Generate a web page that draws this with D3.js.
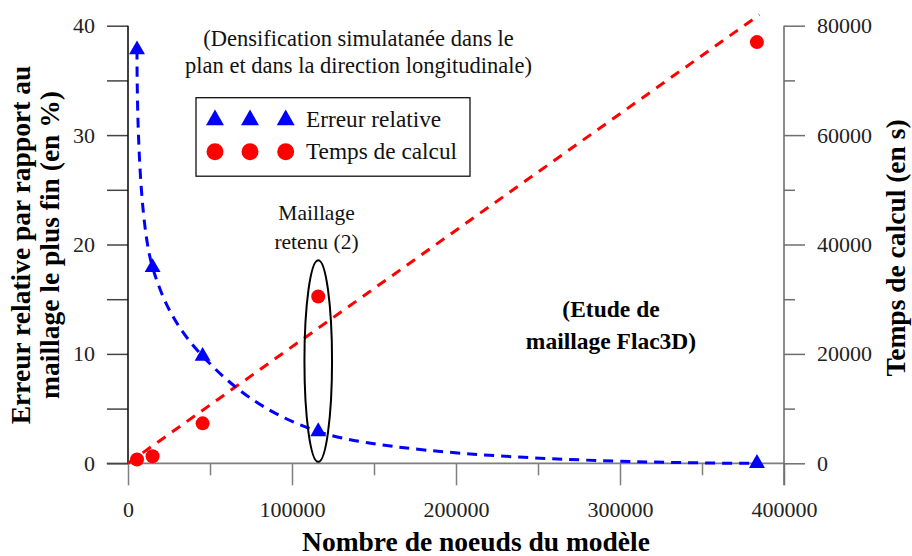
<!DOCTYPE html>
<html><head><meta charset="utf-8">
<script src="https://cdn.jsdelivr.net/npm/d3@7"></script>
</head>
<body style="margin:0;background:#fff"><svg id="chart" width="912" height="556"></svg>
<script>
// ---- data ----
const nodes = [5500, 15000, 45500, 116000, 383500];
const errorPct = [37.8, 17.9, 9.8, 2.9, 0];
const calcTime = [700, 1300, 7300, 30500, 77000];
const trendNodes = [0, 385000];
const trendTime = [0, 82000];
const xTicks = [0, 100000, 200000, 300000, 400000];
const yLeftTicks = [0, 10, 20, 30, 40];
const yRightTicks = [0, 20000, 40000, 60000, 80000];
const legendLabels = ["Erreur relative", "Temps de calcul"];

const FONT = '"Liberation Serif", "Times New Roman", serif';
const svg = d3.select("#chart").style("font-family", FONT);
const x = d3.scaleLinear().domain([0, 400000]).range([128, 784]);
const yL = d3.scaleLinear().domain([0, 40]).range([463.3, 25.7]);
const yR = d3.scaleLinear().domain([0, 80000]).range([463.3, 25.7]);

// ---- axes ----
const xAxis = d3.axisBottom(x).tickValues(d3.range(0, 400001, 50000))
  .tickSize(22).tickPadding(8).tickFormat(d => xTicks.includes(d) ? d : "");
const gx = svg.append("g").attr("transform", `translate(0,${yL(0)})`).call(xAxis);
gx.select(".domain").remove();
gx.selectAll(".tick line").attr("stroke", "#7f7f7f").attr("stroke-width", 1.5)
  .attr("y2", d => xTicks.includes(d) ? 22 : 12);
gx.selectAll(".tick text").style("font-family", FONT).style("font-size", "22px").attr("fill", "#222").attr("dy", "24px");
svg.append("line").attr("x1", 106.7).attr("x2", x(400000))
  .attr("y1", yL(0)).attr("y2", yL(0)).attr("stroke", "#7f7f7f").attr("stroke-width", 1.8);

const yAxisL = d3.axisLeft(yL).tickValues(d3.range(0, 41, 5)).tickSize(21).tickPadding(12)
  .tickFormat(d => yLeftTicks.includes(d) ? d : "");
const gl = svg.append("g").attr("transform", `translate(${x(0)},0)`).call(yAxisL);
gl.select(".domain").remove();
gl.selectAll(".tick line").attr("stroke", "#444").attr("stroke-width", 1.5);
gl.selectAll(".tick text").style("font-family", FONT).style("font-size", "22px").attr("fill", "#222");
svg.append("line").attr("x1", x(0)).attr("x2", x(0)).attr("y1", yL(40)).attr("y2", yL(0))
  .attr("stroke", "#111").attr("stroke-width", 1.6);

const yAxisR = d3.axisRight(yR).tickValues(d3.range(0, 80001, 10000)).tickSize(21).tickPadding(12)
  .tickFormat(d => yRightTicks.includes(d) ? d : "");
const gr = svg.append("g").attr("transform", `translate(${x(400000)},0)`).call(yAxisR);
gr.select(".domain").remove();
gr.selectAll(".tick line").attr("stroke", "#6e6e6e").attr("stroke-width", 1.5)
  .attr("x2", d => yRightTicks.includes(d) ? 21 : 11);
gr.selectAll(".tick text").style("font-family", FONT).style("font-size", "22px").attr("fill", "#222");
svg.append("line").attr("x1", x(400000)).attr("x2", x(400000)).attr("y1", yR(80000)).attr("y2", yR(0) + 22)
  .attr("stroke", "#6e6e6e").attr("stroke-width", 1.6);

// ---- series ----
const trendData = trendNodes.map((n, i) => [n, trendTime[i]]);
svg.append("path").datum(trendData)
  .attr("d", d3.line().x(d => x(d[0])).y(d => yR(d[1])))
  .attr("fill", "none").attr("stroke", "#ff0000").attr("stroke-width", 3).attr("stroke-dasharray", "10,8");

const errData = nodes.map((n, i) => [n, errorPct[i]]);
svg.append("path").datum(errData)
  .attr("d", d3.line().x(d => x(d[0])).y(d => yL(d[1])).curve(d3.curveCatmullRom.alpha(0.5)))
  .attr("fill", "none").attr("stroke", "#0000ff").attr("stroke-width", 3).attr("stroke-dasharray", "10,7");

const tri = d3.symbol().type(d3.symbolTriangle).size(110);
svg.append("g").selectAll("path").data(errData).join("path")
  .attr("d", tri).attr("transform", d => `translate(${x(d[0])},${yL(d[1])})`).attr("fill", "#0000ff");

svg.append("g").selectAll("circle").data(nodes.map((n, i) => [n, calcTime[i]])).join("circle")
  .attr("cx", d => x(d[0])).attr("cy", d => yR(d[1])).attr("r", 7).attr("fill", "#ff0000");

// ---- legend ----
const leg = svg.append("g");
leg.append("rect").attr("x", 196).attr("y", 97.7).attr("width", 274).attr("height", 78.5)
  .attr("fill", "#fff").attr("stroke", "#111").attr("stroke-width", 1.3);
const legX = [215, 250, 285.7];
const triL = d3.symbol().type(d3.symbolTriangle).size(140);
legX.forEach(lx => {
  leg.append("path").attr("d", triL).attr("transform", `translate(${lx},120)`).attr("fill", "#0000ff");
  leg.append("circle").attr("cx", lx).attr("cy", 151.7).attr("r", 8.5).attr("fill", "#ff0000");
});
leg.append("text").attr("x", 306).attr("y", 127).style("font-size", "23.3px").attr("fill", "#111").text(legendLabels[0]);
leg.append("text").attr("x", 306).attr("y", 159).style("font-size", "23.3px").attr("fill", "#111").text(legendLabels[1]);

// ---- annotations ----
function lines(arr, cx, y0, dy, size, weight, color) {
  const t = svg.append("text").attr("text-anchor", "middle").style("font-size", size + "px")
    .style("font-weight", weight).attr("fill", color);
  arr.forEach((s, i) => t.append("tspan").attr("x", cx).attr("y", y0 + i * dy).text(s));
  return t;
}
lines(["(Densification simulatanée dans le", "plan et dans la direction longitudinale)"], 358.5, 46, 27, 22.5, "normal", "#111");
lines(["Maillage", "retenu (2)"], 316.5, 220, 29, 21.5, "normal", "#111");
lines(["(Etude de", "maillage Flac3D)"], 611, 317, 31.5, 23.5, "bold", "#000");

svg.append("ellipse").attr("cx", x(116000)).attr("cy", 361).attr("rx", 13.8).attr("ry", 100.8)
  .attr("fill", "none").attr("stroke", "#000").attr("stroke-width", 2);

// ---- axis titles ----
svg.append("text").attr("x", 476).attr("y", 551).attr("text-anchor", "middle")
  .style("font-size", "27.5px").style("font-weight", "bold").attr("fill", "#000").text("Nombre de noeuds du modèle");
const lt = svg.append("text").attr("transform", "translate(0,245) rotate(-90)").attr("text-anchor", "middle")
  .style("font-size", "27.5px").style("font-weight", "bold").attr("fill", "#000");
lt.append("tspan").attr("x", 0).attr("y", 30).text("Erreur relative par rapport au");
lt.append("tspan").attr("x", 0).attr("y", 59).text("maillage le plus fin (en %)");
svg.append("text").attr("transform", "translate(905,248) rotate(-90)").attr("text-anchor", "middle")
  .style("font-size", "27.5px").style("font-weight", "bold").attr("fill", "#000").text("Temps de calcul (en s)");
</script></body></html>
